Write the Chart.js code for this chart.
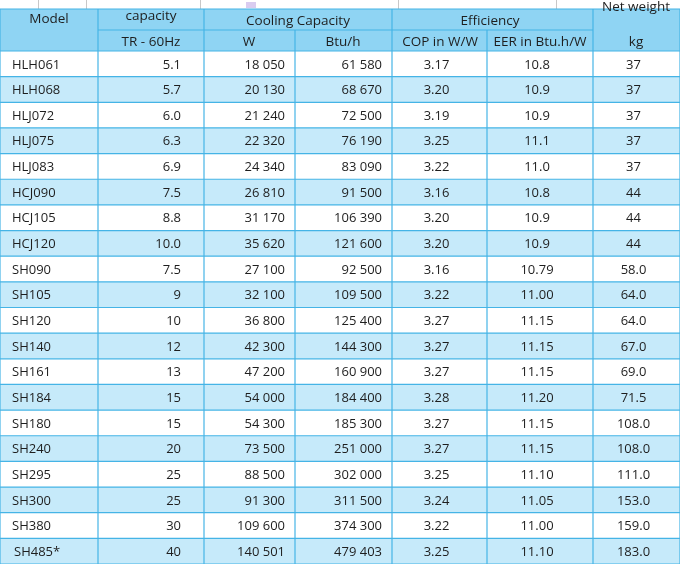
<!DOCTYPE html>
<html>
<head>
<meta charset="utf-8">
<script src="https://cdn.jsdelivr.net/npm/chart.js@4"></script>
<style>
  html, body { margin: 0; padding: 0; background: #fff; }
  #wrap { width: 680px; height: 564px; }
</style>
</head>
<body>
<div id="wrap"><canvas id="myChart"></canvas></div>
<script>
  const models = ['HLH061','HLH068','HLJ072','HLJ075','HLJ083','HCJ090','HCJ105','HCJ120','SH090','SH105','SH120','SH140','SH161','SH184','SH180','SH240','SH295','SH300','SH380','SH485*'];
  const tr = ['5.1','5.7','6.0','6.3','6.9','7.5','8.8','10.0','7.5','9','10','12','13','15','15','20','25','25','30','40'];
  const watts = ['18 050','20 130','21 240','22 320','24 340','26 810','31 170','35 620','27 100','32 100','36 800','42 300','47 200','54 000','54 300','73 500','88 500','91 300','109 600','140 501'];
  const btu = ['61 580','68 670','72 500','76 190','83 090','91 500','106 390','121 600','92 500','109 500','125 400','144 300','160 900','184 400','185 300','251 000','302 000','311 500','374 300','479 403'];
  const cop = ['3.17','3.20','3.19','3.25','3.22','3.16','3.20','3.20','3.16','3.22','3.27','3.27','3.27','3.28','3.27','3.27','3.25','3.24','3.22','3.25'];
  const eer = ['10.8','10.9','10.9','11.1','11.0','10.8','10.9','10.9','10.79','11.00','11.15','11.15','11.15','11.20','11.15','11.15','11.10','11.05','11.00','11.10'];
  const weight = ['37','37','37','37','37','44','44','44','58.0','64.0','64.0','67.0','69.0','71.5','108.0','108.0','111.0','153.0','159.0','183.0'];

  const columns = [models, tr, watts, btu, cop, eer, weight];
  // column edges in x-scale units and text alignment per column
  const edges = [0, 98, 204, 295, 392, 487, 593, 680];
  const align = ['left', 'right', 'right', 'right', 'center', 'center', 'center'];

  const LINE = '#45b4e6', HEAD = '#8fd4f3', ALT = '#c6eafa', TXT = '#1e1e1e';
  const FONT = '13px "Open Sans", sans-serif';
  const HFONT = '13.5px "Open Sans", sans-serif';

  const tablePlugin = {
    id: 'table',
    afterDraw(chart) {
      const c = chart.ctx, xs = chart.scales.x, ys = chart.scales.y;
      const X = v => xs.getPixelForValue(v);
      const top = chart.chartArea.top, bottom = chart.chartArea.bottom;
      const rowH = (bottom - top) / models.length;
      c.save();
      // top strip (remnant of a table above)
      c.strokeStyle = '#c8c8c8'; c.lineWidth = 1;
      [38, 86, 200, 398, 556].forEach(x => { c.beginPath(); c.moveTo(x + .5, 0); c.lineTo(x + .5, 9); c.stroke(); });
      c.fillStyle = '#d9ccf0'; c.fillRect(246, 2, 10, 6);
      // header
      c.fillStyle = HEAD; c.fillRect(X(0), 9, X(680) - X(0), top - 9);
      // rows
      models.forEach((m, i) => {
        const yc = ys.getPixelForValue(i);
        c.fillStyle = i % 2 ? ALT : '#ffffff';
        c.fillRect(X(0), yc - rowH / 2, X(680) - X(0), rowH);
      });
      // grid lines
      c.strokeStyle = LINE; c.lineWidth = 1.2;
      const hl = (x1, x2, y) => { c.beginPath(); c.moveTo(X(x1), y); c.lineTo(X(x2), y); c.stroke(); };
      const vl = (x, y1, y2) => { c.beginPath(); c.moveTo(X(x), y1); c.lineTo(X(x), y2); c.stroke(); };
      hl(0, 680, 9);
      hl(98, 593, 30);
      for (let i = 0; i <= models.length; i++) hl(0, 680, top + i * rowH);
      [0, 98, 204, 392, 593, 680].forEach(x => vl(x, 9, bottom));
      [295, 487].forEach(x => vl(x, 30, bottom));
      // header text
      c.fillStyle = TXT; c.font = HFONT; c.textBaseline = 'middle'; c.textAlign = 'center';
      c.fillText('Model', X(49), 19);
      c.fillText('capacity', X(151), 16);
      c.fillText('TR - 60Hz', X(151), 42);
      c.fillText('Cooling Capacity', X(298), 21);
      c.fillText('Efficiency', X(490), 21);
      c.fillText('Net weight', X(636), 7);
      c.fillText('W', X(249), 42);
      c.fillText('Btu/h', X(343), 42);
      c.fillText('COP in W/W', X(440), 42);
      c.fillText('EER in Btu.h/W', X(540), 42);
      c.fillText('kg', X(636), 42);
      // body text
      c.font = FONT;
      columns.forEach((col, j) => {
        col.forEach((v, i) => {
          const y = ys.getPixelForValue(i) + 1;
          c.textAlign = align[j];
          let x;
          if (align[j] === 'left') x = X(edges[j]) + (i === models.length - 1 ? 14 : 12);
          else if (align[j] === 'right') x = X(edges[j + 1]) - (j === 1 ? 23 : 10);
          else x = (X(edges[j]) + X(edges[j + 1])) / 2 - 3;
          c.fillText(v, x, y);
        });
      });
      c.restore();
    }
  };

  new Chart(document.getElementById('myChart'), {
    type: 'scatter',
    data: { labels: models, datasets: [{ data: [] }] },
    options: {
      responsive: true,
      maintainAspectRatio: false,
      animation: false,
      layout: { padding: { top: 51, left: 0, right: 0, bottom: 0 } },
      plugins: { legend: { display: false }, tooltip: { enabled: false } },
      scales: {
        x: { type: 'linear', min: 0, max: 680, display: false },
        y: { type: 'category', labels: models, offset: true, display: false }
      }
    },
    plugins: [tablePlugin]
  });
</script>
</body>
</html>
